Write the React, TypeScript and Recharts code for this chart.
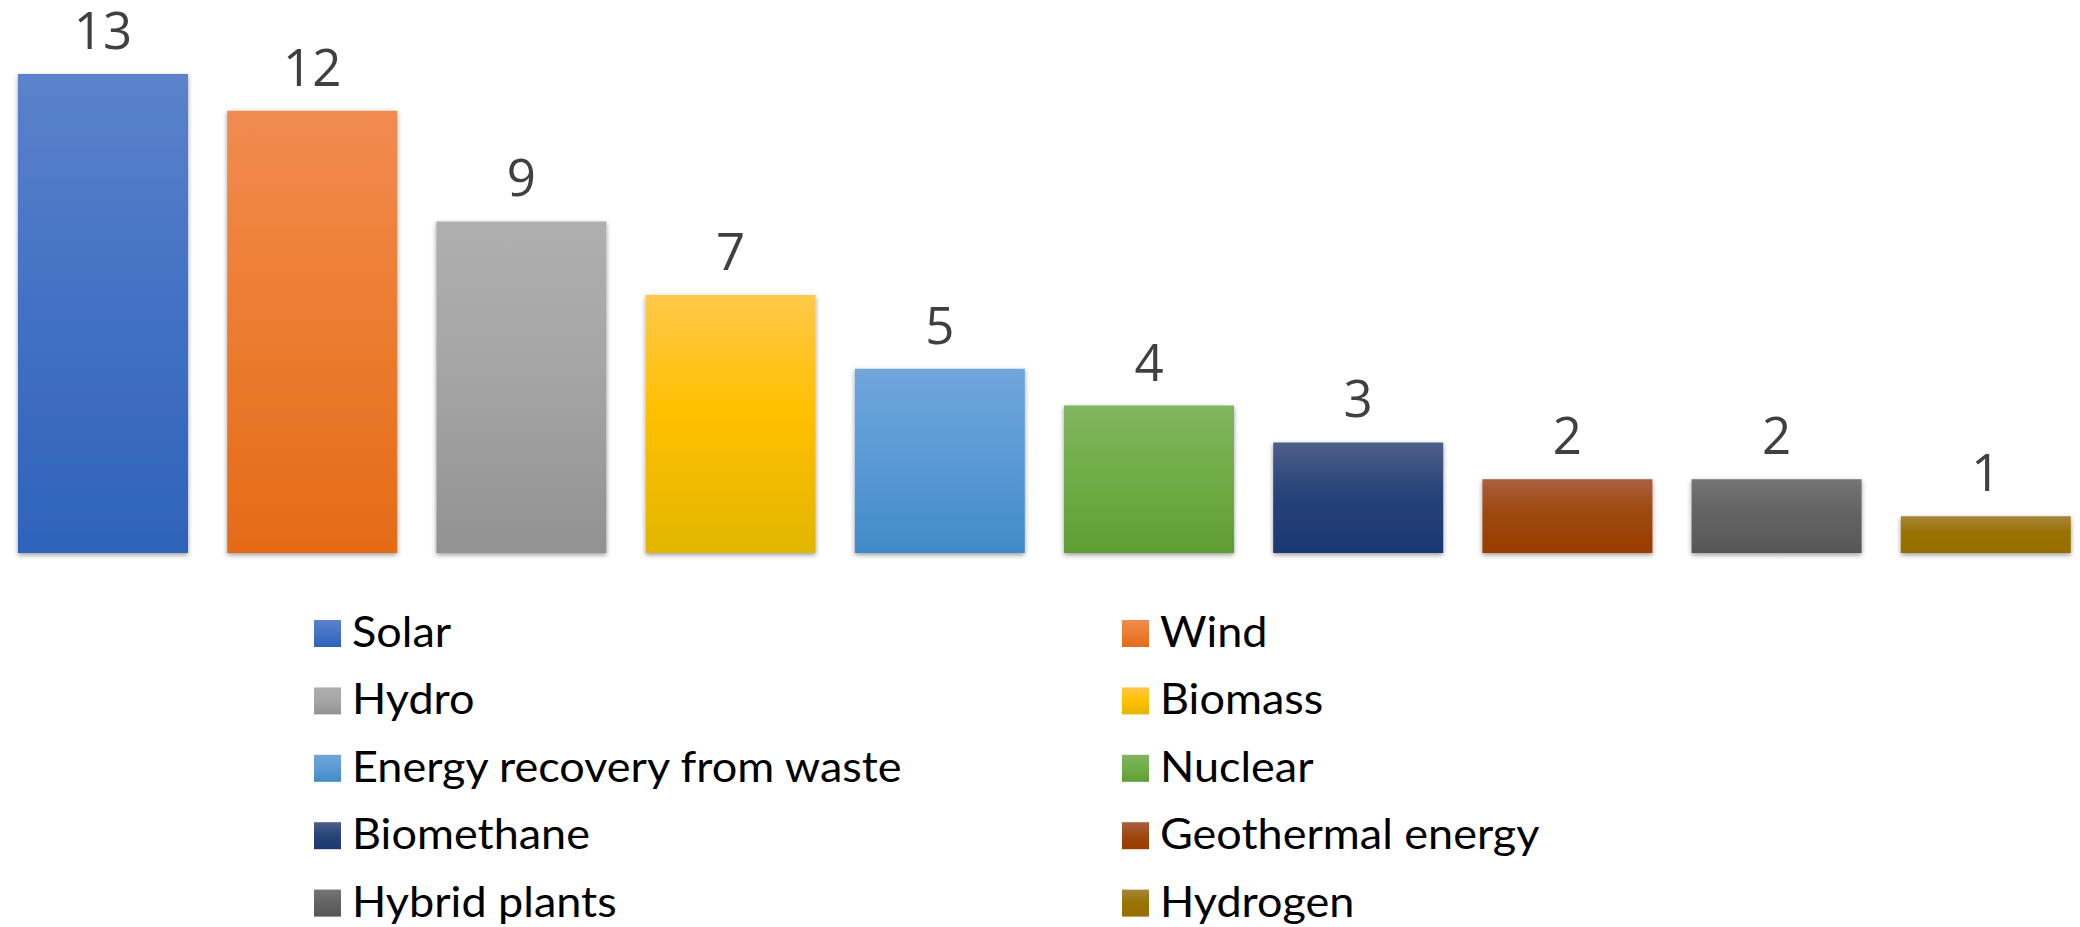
import React from 'react';
import { BarChart, Bar, XAxis, YAxis, Cell, LabelList } from 'recharts';

const categories = [
  'Solar',
  'Wind',
  'Hydro',
  'Biomass',
  'Energy recovery from waste',
  'Nuclear',
  'Biomethane',
  'Geothermal energy',
  'Hybrid plants',
  'Hydrogen',
];

const values = [13, 12, 9, 7, 5, 4, 3, 2, 2, 1];

const baseColors = ['#4472C4', '#ED7D31', '#A5A5A5', '#FFC000', '#5B9BD5', '#70AD47', '#264478', '#9E480E', '#636363', '#997300'];
const topColors = ['#5C82CB', '#F18B51', '#AFAFAF', '#FFC84A', '#70A6DC', '#80B660', '#4E5E8A', '#A9603F', '#747474', '#A8843C'];
const bottomColors = ['#2E63BA', '#E46B18', '#929292', '#E3B600', '#428ACA', '#5F9E34', '#1C3872', '#993C00', '#575757', '#976D00'];

const data = categories.map((name, i) => ({ name, value: values[i] }));

const legendSquareX = [314, 1122];
const legendTextX = [352, 1160];
const legendTop = 620;
const legendPitch = 67.4;

export default function App() {
  return (
    <div style={{ position: 'absolute', left: 0, top: 0, width: 2080, height: 927, overflow: 'hidden', background: '#fff' }}>
      <div style={{ position: 'absolute', left: -2, top: 0 }}>
        <BarChart
          width={2092}
          height={927}
          data={data}
          margin={{ top: 74, right: 0, bottom: 374, left: 0 }}
          barCategoryGap={0}
          barSize={170}
        >
          <defs>
            {categories.map((c, i) => (
              <linearGradient id={`grad${i}`} key={c} x1="0" y1="0" x2="0" y2="1">
                <stop offset="0%" stopColor={topColors[i]} />
                <stop offset="45%" stopColor={baseColors[i]} />
                <stop offset="100%" stopColor={bottomColors[i]} />
              </linearGradient>
            ))}
            <filter id="barShadow" x="-10%" y="-10%" width="120%" height="130%">
              <feDropShadow dx="0" dy="2" stdDeviation="2.5" floodColor="#000" floodOpacity="0.4" />
            </filter>
          </defs>
          <XAxis dataKey="name" hide />
          <YAxis hide domain={[0, 13]} />
          <Bar dataKey="value" isAnimationActive={false}>
            {data.map((d, i) => (
              <Cell key={d.name} fill={`url(#grad${i})`} filter="url(#barShadow)" />
            ))}
            <LabelList
              dataKey="value"
              position="top"
              offset={25}
              fill="#404040"
              fontSize={51}
              fontFamily="'Open Sans', sans-serif"
            />
          </Bar>
        </BarChart>
      </div>
      <svg width={2080} height={927} style={{ position: 'absolute', left: 0, top: 0 }}>
        <defs>
          {categories.map((c, i) => (
            <linearGradient id={`lg${i}`} key={c} x1="0" y1="0" x2="0" y2="1">
              <stop offset="0%" stopColor={topColors[i]} />
              <stop offset="50%" stopColor={baseColors[i]} />
              <stop offset="100%" stopColor={bottomColors[i]} />
            </linearGradient>
          ))}
        </defs>
        {categories.map((c, i) => {
          const col = i % 2;
          const row = Math.floor(i / 2);
          const top = legendTop + row * legendPitch;
          return (
            <g key={c}>
              <rect x={legendSquareX[col]} y={top} width={27} height={27} fill={`url(#lg${i})`} />
              <text
                transform={`translate(${legendTextX[col]},${top + 27}) scale(1,0.93)`}
                fontFamily="Lato, sans-serif"
                fontSize={45}
                fill="#000"
              >
                {c}
              </text>
            </g>
          );
        })}
      </svg>
    </div>
  );
}
